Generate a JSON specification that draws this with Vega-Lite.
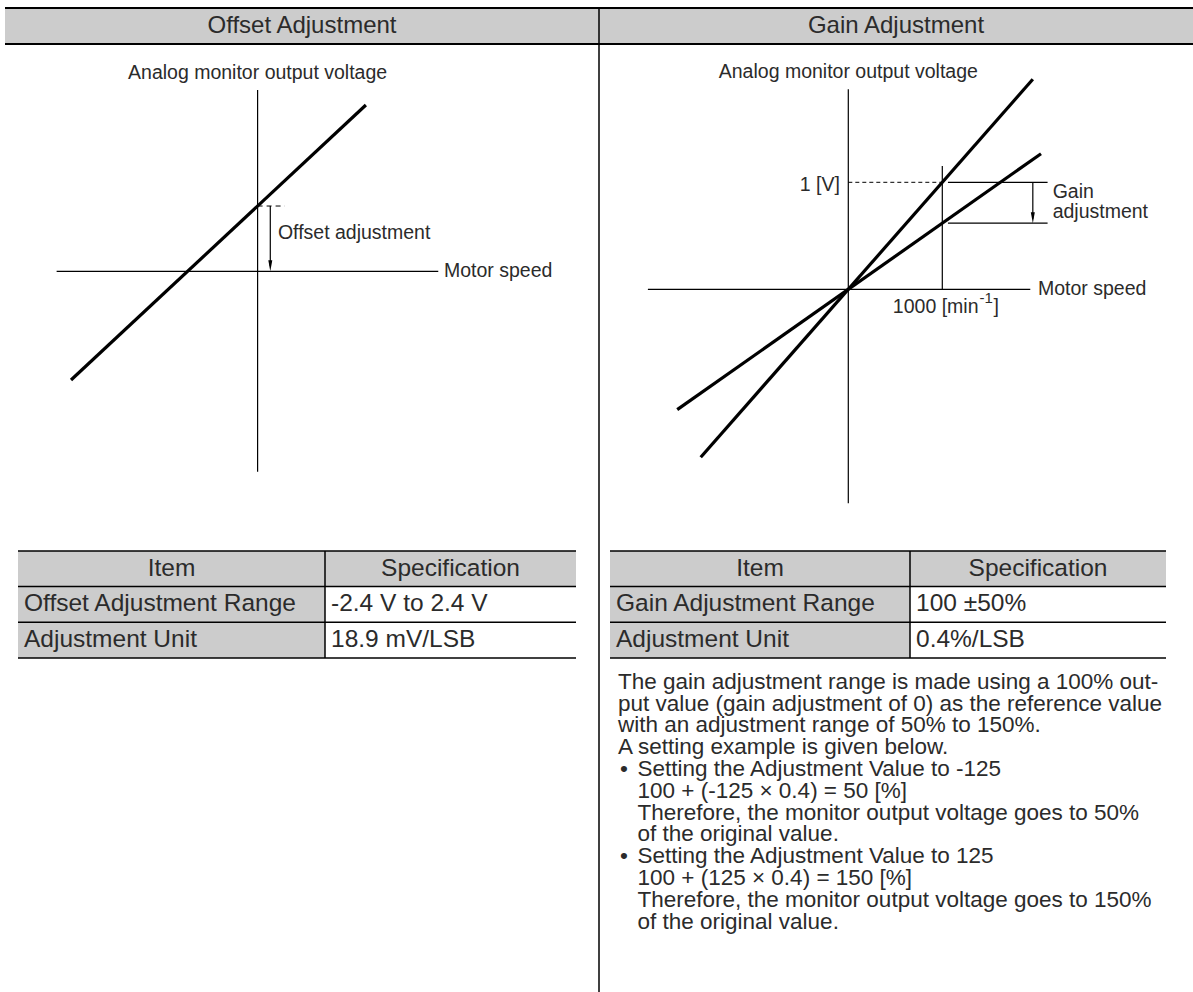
{
  "$schema": "https://vega.github.io/schema/vega-lite/v6.json",
  "width": 1193,
  "height": 992,
  "autosize": {"type": "fit", "contains": "padding"},
  "padding": 0,
  "background": "white",
  "config": {
    "view": {"stroke": null},
    "text": {"font": "Liberation Sans", "color": "#2b2b2b"}
  },
  "datasets": {
    "frameFill": [{"p": 0, "p2": 2, "r": 0, "r2": 1}],
    "frameLines": [
      {"p": 0, "p2": 2, "r": 0, "r2": 0},
      {"p": 0, "p2": 2, "r": 1, "r2": 1}
    ],
    "frameDivider": [{"p": 1, "p2": 1, "r": 0, "r2": 2}],
    "frameTitles": [
      {"p": 0.5, "r": 0.5, "label": "Offset Adjustment"},
      {"p": 1.5, "r": 0.5, "label": "Gain Adjustment"}
    ],
    "leftThin": [
      {"speed": -2138, "volt": 0, "speed2": 1922, "volt2": 0},
      {"speed": 0, "volt": 1.694, "speed2": 0, "volt2": -1.873},
      {"speed": 135, "volt": 0.61, "speed2": 135, "volt2": 0.05}
    ],
    "leftThick": [
      {"speed": -1985, "volt": -1.016, "speed2": 1152, "volt2": 1.554}
    ],
    "leftDash": [
      {"speed": 0, "volt": 0.61, "speed2": 289, "volt2": 0.61}
    ],
    "leftHead": [{"speed": 135, "volt": 0}],
    "leftTitle": [{"speed": 0, "volt": 1.856, "label": "Analog monitor output voltage"}],
    "leftLabels": [
      {"speed": 216, "volt": 0.36, "label": "Offset adjustment"},
      {"speed": 1983, "volt": 0, "label": "Motor speed"}
    ],
    "rightThin": [
      {"speed": -2132, "volt": 0, "speed2": 1936, "volt2": 0},
      {"speed": 0, "volt": 1.869, "speed2": 0, "volt2": -2.0},
      {"speed": 1000, "volt": 0, "speed2": 1000, "volt2": 1.152},
      {"speed": 1060, "volt": 1, "speed2": 2120, "volt2": 1},
      {"speed": 1060, "volt": 0.618, "speed2": 2120, "volt2": 0.618},
      {"speed": 1963, "volt": 1, "speed2": 1963, "volt2": 0.66}
    ],
    "rightThick": [
      {"speed": -1570, "volt": -1.57, "speed2": 1963, "volt2": 1.963},
      {"speed": -1820, "volt": -1.125, "speed2": 2050, "volt2": 1.267}
    ],
    "rightDash": [
      {"speed": 0, "volt": 1, "speed2": 1000, "volt2": 1}
    ],
    "rightHead": [{"speed": 1963, "volt": 0.618}],
    "rightTitle": [{"speed": 0, "volt": 2.034, "label": "Analog monitor output voltage"}],
    "rightLabels": [
      {"speed": 2174, "volt": 0.912, "label": "Gain"},
      {"speed": 2174, "volt": 0.725, "label": "adjustment"},
      {"speed": 2018, "volt": 0, "label": "Motor speed"},
      {"speed": 474, "volt": -0.163, "label": "1000 [min"},
      {"speed": 1545, "volt": -0.163, "label": "]"}
    ],
    "rightSup": [{"speed": 1396, "volt": -0.08, "label": "-1"}],
    "rightVLabel": [{"speed": -90, "volt": 0.975, "label": "1 [V]"}],
    "tableFill": [
      {"col": 0, "col2": 2, "row": 0, "row2": 1},
      {"col": 0, "col2": 1, "row": 1, "row2": 3},
      {"col": 3, "col2": 5, "row": 0, "row2": 1},
      {"col": 3, "col2": 4, "row": 1, "row2": 3}
    ],
    "tableRules": [
      {"col": 0, "col2": 2, "row": 0, "row2": 0},
      {"col": 0, "col2": 2, "row": 1, "row2": 1},
      {"col": 0, "col2": 2, "row": 2, "row2": 2},
      {"col": 0, "col2": 2, "row": 3, "row2": 3},
      {"col": 3, "col2": 5, "row": 0, "row2": 0},
      {"col": 3, "col2": 5, "row": 1, "row2": 1},
      {"col": 3, "col2": 5, "row": 2, "row2": 2},
      {"col": 3, "col2": 5, "row": 3, "row2": 3},
      {"col": 1, "col2": 1, "row": 0, "row2": 3},
      {"col": 4, "col2": 4, "row": 0, "row2": 3}
    ],
    "tableHead": [
      {"col": 0.5, "row": 0.5, "label": "Item"},
      {"col": 1.5, "row": 0.5, "label": "Specification"},
      {"col": 3.5, "row": 0.5, "label": "Item"},
      {"col": 4.5, "row": 0.5, "label": "Specification"}
    ],
    "tableCells": [
      {"col": 0, "row": 1.5, "label": "Offset Adjustment Range"},
      {"col": 1, "row": 1.5, "label": "-2.4 V to 2.4 V"},
      {"col": 0, "row": 2.5, "label": "Adjustment Unit"},
      {"col": 1, "row": 2.5, "label": "18.9 mV/LSB"},
      {"col": 3, "row": 1.5, "label": "Gain Adjustment Range"},
      {"col": 4, "row": 1.5, "label": "100 ±50%"},
      {"col": 3, "row": 2.5, "label": "Adjustment Unit"},
      {"col": 4, "row": 2.5, "label": "0.4%/LSB"}
    ],
    "noteLines": [
      {"indent": 0, "line": 1, "label": "The gain adjustment range is made using a 100% out-"},
      {"indent": 0, "line": 2, "label": "put value (gain adjustment of 0) as the reference value"},
      {"indent": 0, "line": 3, "label": "with an adjustment range of 50% to 150%."},
      {"indent": 0, "line": 4, "label": "A setting example is given below."},
      {"indent": 1, "line": 5, "label": "Setting the Adjustment Value to -125"},
      {"indent": 1, "line": 6, "label": "100 + (-125 × 0.4) = 50 [%]"},
      {"indent": 1, "line": 7, "label": "Therefore, the monitor output voltage goes to 50%"},
      {"indent": 1, "line": 8, "label": "of the original value."},
      {"indent": 1, "line": 9, "label": "Setting the Adjustment Value to 125"},
      {"indent": 1, "line": 10, "label": "100 + (125 × 0.4) = 150 [%]"},
      {"indent": 1, "line": 11, "label": "Therefore, the monitor output voltage goes to 150%"},
      {"indent": 1, "line": 12, "label": "of the original value."}
    ],
    "noteBullets": [
      {"indent": 0, "line": 5, "label": "•"},
      {"indent": 0, "line": 9, "label": "•"}
    ]
  },
  "resolve": {"scale": {"x": "independent", "y": "independent"}},
  "layer": [
    {
      "encoding": {
        "x": {"field": "p", "type": "quantitative", "axis": null, "scale": {"domain": [0, 1, 2], "range": [5, 599, 1193], "nice": false, "zero": false}},
        "y": {"field": "r", "type": "quantitative", "axis": null, "scale": {"domain": [0, 1, 2], "range": [8, 44, 992], "nice": false, "zero": false}}
      },
      "layer": [
        {"data": {"name": "frameFill"}, "mark": {"type": "rect", "color": "#cccccc"}, "encoding": {"x2": {"field": "p2"}, "y2": {"field": "r2"}}},
        {"data": {"name": "frameLines"}, "mark": {"type": "rule", "color": "#000000", "strokeWidth": 2}, "encoding": {"x2": {"field": "p2"}, "y2": {"field": "r2"}}},
        {"data": {"name": "frameDivider"}, "mark": {"type": "rule", "color": "#000000", "strokeWidth": 1.5}, "encoding": {"x2": {"field": "p2"}, "y2": {"field": "r2"}}},
        {"data": {"name": "frameTitles"}, "mark": {"type": "text", "fontSize": 24, "align": "center", "baseline": "middle"}, "encoding": {"text": {"field": "label"}}}
      ]
    },
    {
      "encoding": {
        "x": {"field": "speed", "type": "quantitative", "axis": null, "scale": {"domain": [-2000, 2000], "range": [69.6, 445.6], "nice": false, "zero": false}},
        "y": {"field": "volt", "type": "quantitative", "axis": null, "scale": {"domain": [-2, 2], "range": [485.3, 57.3], "nice": false, "zero": false}}
      },
      "layer": [
        {"data": {"name": "leftThin"}, "mark": {"type": "rule", "color": "#000000", "strokeWidth": 1.2}, "encoding": {"x2": {"field": "speed2"}, "y2": {"field": "volt2"}}},
        {"data": {"name": "leftDash"}, "mark": {"type": "rule", "color": "#000000", "strokeWidth": 1, "strokeDash": [5, 4]}, "encoding": {"x2": {"field": "speed2"}, "y2": {"field": "volt2"}}},
        {"data": {"name": "leftThick"}, "mark": {"type": "rule", "color": "#000000", "strokeWidth": 3.2}, "encoding": {"x2": {"field": "speed2"}, "y2": {"field": "volt2"}}},
        {"data": {"name": "leftHead"}, "mark": {"type": "point", "shape": "M-0.4,-2.2L0.4,-2.2L0,0Z", "size": 100, "filled": true, "color": "#000000", "opacity": 1, "strokeWidth": 0}},
        {"data": {"name": "leftTitle"}, "mark": {"type": "text", "fontSize": 19.5, "align": "center", "baseline": "middle"}, "encoding": {"text": {"field": "label"}}},
        {"data": {"name": "leftLabels"}, "mark": {"type": "text", "fontSize": 19.5, "align": "left", "baseline": "middle"}, "encoding": {"text": {"field": "label"}}}
      ]
    },
    {
      "encoding": {
        "x": {"field": "speed", "type": "quantitative", "axis": null, "scale": {"domain": [-2000, 2000], "range": [660.3, 1036.3], "nice": false, "zero": false}},
        "y": {"field": "volt", "type": "quantitative", "axis": null, "scale": {"domain": [-2, 2], "range": [503.3, 75.3], "nice": false, "zero": false}}
      },
      "layer": [
        {"data": {"name": "rightThin"}, "mark": {"type": "rule", "color": "#000000", "strokeWidth": 1.2}, "encoding": {"x2": {"field": "speed2"}, "y2": {"field": "volt2"}}},
        {"data": {"name": "rightDash"}, "mark": {"type": "rule", "color": "#000000", "strokeWidth": 1, "strokeDash": [4, 3]}, "encoding": {"x2": {"field": "speed2"}, "y2": {"field": "volt2"}}},
        {"data": {"name": "rightThick"}, "mark": {"type": "rule", "color": "#000000", "strokeWidth": 3.2}, "encoding": {"x2": {"field": "speed2"}, "y2": {"field": "volt2"}}},
        {"data": {"name": "rightHead"}, "mark": {"type": "point", "shape": "M-0.4,-2.2L0.4,-2.2L0,0Z", "size": 100, "filled": true, "color": "#000000", "opacity": 1, "strokeWidth": 0}},
        {"data": {"name": "rightTitle"}, "mark": {"type": "text", "fontSize": 19.5, "align": "center", "baseline": "middle"}, "encoding": {"text": {"field": "label"}}},
        {"data": {"name": "rightLabels"}, "mark": {"type": "text", "fontSize": 19.5, "align": "left", "baseline": "middle"}, "encoding": {"text": {"field": "label"}}},
        {"data": {"name": "rightSup"}, "mark": {"type": "text", "fontSize": 15, "align": "left", "baseline": "middle"}, "encoding": {"text": {"field": "label"}}},
        {"data": {"name": "rightVLabel"}, "mark": {"type": "text", "fontSize": 19.5, "align": "right", "baseline": "middle"}, "encoding": {"text": {"field": "label"}}}
      ]
    },
    {
      "encoding": {
        "x": {"field": "col", "type": "quantitative", "axis": null, "scale": {"domain": [0, 1, 2, 3, 4, 5], "range": [18, 325, 576, 610, 910, 1166], "nice": false, "zero": false}},
        "y": {"field": "row", "type": "quantitative", "axis": null, "scale": {"domain": [0, 1, 2, 3], "range": [551, 586.5, 622.2, 658], "nice": false, "zero": false}}
      },
      "layer": [
        {"data": {"name": "tableFill"}, "mark": {"type": "rect", "color": "#cccccc"}, "encoding": {"x2": {"field": "col2"}, "y2": {"field": "row2"}}},
        {"data": {"name": "tableRules"}, "mark": {"type": "rule", "color": "#000000", "strokeWidth": 1.5}, "encoding": {"x2": {"field": "col2"}, "y2": {"field": "row2"}}},
        {"data": {"name": "tableHead"}, "mark": {"type": "text", "fontSize": 24.5, "align": "center", "baseline": "middle"}, "encoding": {"text": {"field": "label"}}},
        {"data": {"name": "tableCells"}, "mark": {"type": "text", "fontSize": 24.5, "align": "left", "baseline": "middle", "dx": 6}, "encoding": {"text": {"field": "label"}}}
      ]
    },
    {
      "encoding": {
        "x": {"field": "indent", "type": "quantitative", "axis": null, "scale": {"domain": [0, 1], "range": [618, 637.5], "nice": false, "zero": false}},
        "y": {"field": "line", "type": "quantitative", "axis": null, "scale": {"domain": [1, 12], "range": [688.7, 928.7], "nice": false, "zero": false}}
      },
      "layer": [
        {"data": {"name": "noteLines"}, "mark": {"type": "text", "fontSize": 22.5, "align": "left", "baseline": "alphabetic"}, "encoding": {"text": {"field": "label"}}},
        {"data": {"name": "noteBullets"}, "mark": {"type": "text", "fontSize": 22.5, "align": "left", "baseline": "alphabetic", "dx": 2}, "encoding": {"text": {"field": "label"}}}
      ]
    }
  ]
}
